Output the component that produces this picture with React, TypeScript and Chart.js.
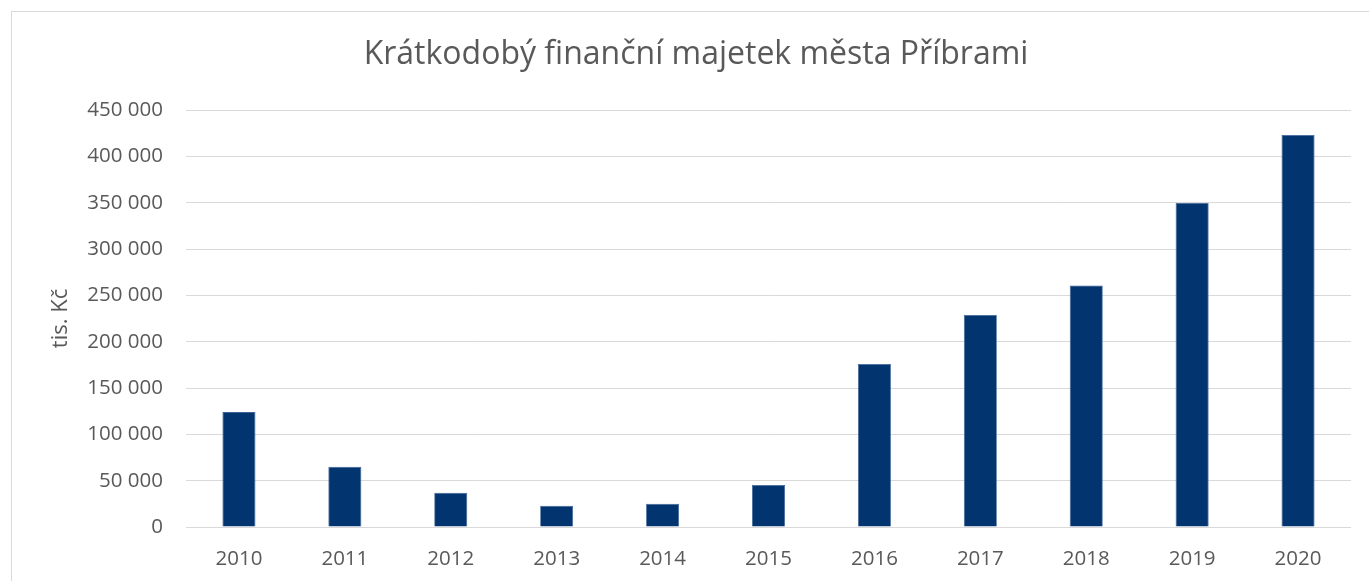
import React, { useEffect, useRef } from "react";
import { Chart, registerables } from "chart.js";

Chart.register(...registerables);

const TITLE = "Krátkodobý finanční majetek města Příbrami";
const Y_AXIS_TITLE = "tis. Kč";
const YEARS = ["2010", "2011", "2012", "2013", "2014", "2015", "2016", "2017", "2018", "2019", "2020"];
const VALUES = [124000, 65000, 37000, 23000, 25000, 45300, 176000, 228800, 260700, 349600, 423000];
const Y_MIN = 0;
const Y_MAX = 450000;
const Y_STEP = 50000;

const FONT = "'Open Sans', 'DejaVu Sans', sans-serif";
const TEXT = "#595959";
const GRID = "#d9d9d9";
const BAR = "#023570";

function fmt(v: number): string {
  return String(Math.round(v)).replace(/\B(?=(\d{3})+(?!\d))/g, " ");
}

const titlePlugin = {
  id: "offsetTitle",
  afterDraw(chart: any) {
    const ctx = chart.ctx;
    ctx.save();
    ctx.font = `normal 32px ${FONT}`;
    ctx.fillStyle = TEXT;
    ctx.textAlign = "center";
    ctx.textBaseline = "alphabetic";
    ctx.fillText(TITLE, 696, 64);
    ctx.restore();
  },
};

export default function App() {
  const ref = useRef<HTMLCanvasElement | null>(null);

  useEffect(() => {
    if (!ref.current) return;
    const chart = new Chart(ref.current, {
      type: "bar",
      data: {
        labels: YEARS,
        datasets: [
          {
            label: Y_AXIS_TITLE,
            data: VALUES,
            backgroundColor: BAR,
            borderColor: "#3d6396",
            borderWidth: 0.8,
            categoryPercentage: 1,
            barPercentage: 0.312,
          },
        ],
      },
      plugins: [titlePlugin],
      options: {
        animation: false,
        responsive: false,
        maintainAspectRatio: false,
        layout: { padding: { left: 0, top: 110, right: 18, bottom: 0 } },
        plugins: {
          legend: { display: false },
          tooltip: { enabled: false },
          title: { display: false },
        },
        scales: {
          x: {
            afterFit: (scale: any) => {
              scale.height = 54;
            },
            grid: { display: false, drawTicks: false },
            border: { display: false },
            ticks: {
              color: TEXT,
              font: { family: FONT, size: 20.5, lineHeight: 1.2 },
              padding: 20,
              maxRotation: 0,
            },
          },
          y: {
            min: Y_MIN,
            max: Y_MAX,
            afterFit: (scale: any) => {
              scale.width = 186;
            },
            grid: { color: GRID, lineWidth: 1, drawTicks: false },
            border: { display: false },
            ticks: {
              stepSize: Y_STEP,
              color: TEXT,
              font: { family: FONT, size: 20.5, lineHeight: 1.2 },
              padding: 23,
              callback: (v: any) => fmt(Number(v)),
            },
            title: {
              display: true,
              text: Y_AXIS_TITLE,
              color: TEXT,
              font: { family: FONT, size: 22, lineHeight: 1.2 },
              padding: { top: 48, bottom: 0 },
            },
          },
        },
      },
    });
    return () => chart.destroy();
  }, []);

  return (
    <div style={{ position: "fixed", left: 0, top: 0, width: 1369, height: 581, overflow: "hidden", background: "#fff" }}>
      <div
        style={{
          position: "absolute",
          left: 11,
          top: 11,
          width: 2000,
          height: 2000,
          border: "1px solid #d9d9d9",
        }}
      />
      <canvas ref={ref} width={1369} height={581} style={{ position: "absolute", left: 0, top: 0, width: 1369, height: 581 }} />
    </div>
  );
}
